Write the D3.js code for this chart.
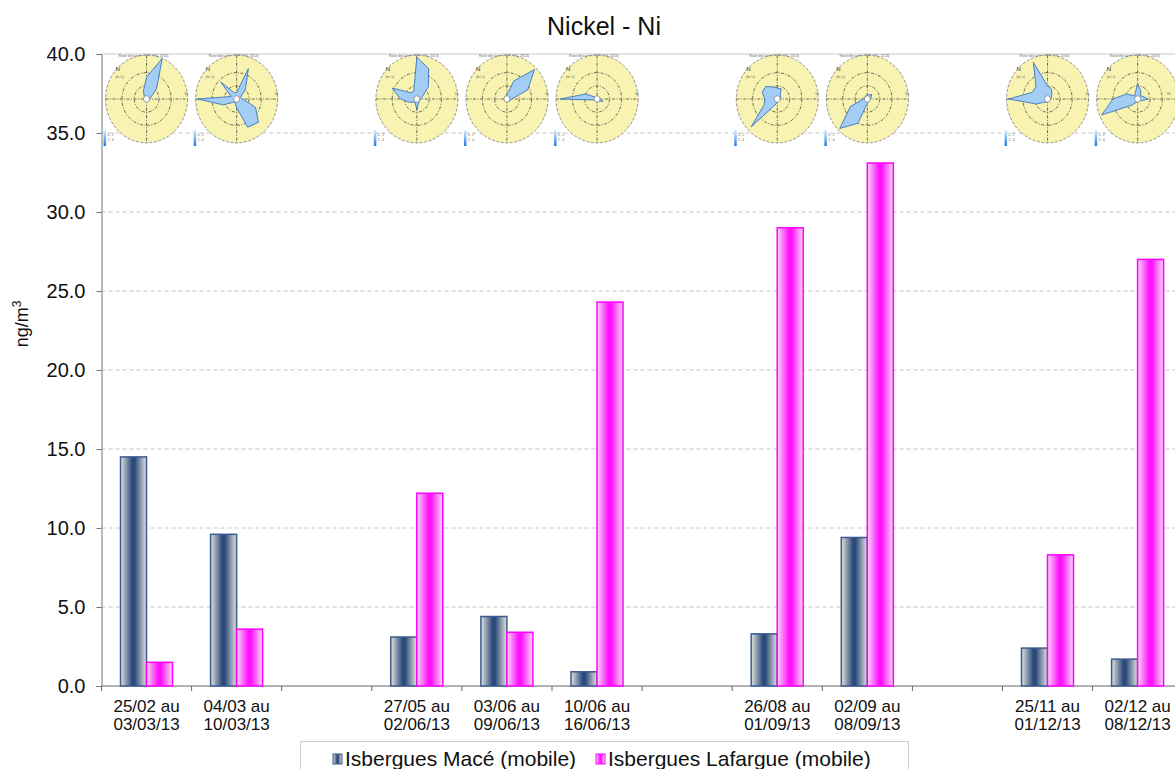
<!DOCTYPE html>
<html>
<head>
<meta charset="UTF-8">
<title>Nickel - Ni</title>
<script src="https://cdn.jsdelivr.net/npm/d3@7"></script>
<style>
  body { margin: 0; background: #fff; overflow: hidden; }
  svg { display: block; font-family: "Liberation Sans", Arial, sans-serif; }
</style>
</head>
<body>
<div id="chart"></div>
<script>
// catégories (les vides servent d'espacement entre campagnes)
var catLine1 = ["25/02 au", "04/03 au", "", "27/05 au", "03/06 au", "10/06 au", "", "26/08 au", "02/09 au", "", "25/11 au", "02/12 au"];
var catLine2 = ["03/03/13", "10/03/13", "", "02/06/13", "09/06/13", "16/06/13", "", "01/09/13", "08/09/13", "", "01/12/13", "08/12/13"];
var seriesNames = ["Isbergues Macé (mobile)", "Isbergues Lafargue (mobile)"];
var maceValues = [14.5, 9.6, null, 3.1, 4.4, 0.9, null, 3.3, 9.4, null, 2.4, 1.7];
var lafargueValues = [1.5, 3.6, null, 12.2, 3.4, 24.3, null, 29.0, 33.1, null, 8.3, 27.0];
var yTicks = [0, 5, 10, 15, 20, 25, 30, 35, 40];

// roses des vents (16 directions, N puis sens horaire, rayon relatif)
var roses = [
  [0.5, 1.0, 0.35, 0.12, 0.08, 0.06, 0.06, 0.06, 0.06, 0.06, 0.06, 0.06, 0.06, 0.06, 0.08, 0.2],
  [0.15, 0.75, 0.3, 0.1, 0.15, 0.5, 0.75, 0.7, 0.2, 0.1, 0.1, 0.35, 0.95, 0.15, 0.55, 0.15],
  null,
  [0.95, 0.75, 0.4, 0.15, 0.1, 0.08, 0.08, 0.1, 0.25, 0.1, 0.1, 0.2, 0.4, 0.65, 0.2, 0.2],
  [0.1, 0.45, 0.95, 0.55, 0.12, 0.08, 0.06, 0.06, 0.06, 0.06, 0.06, 0.06, 0.06, 0.06, 0.06, 0.08],
  [0.06, 0.06, 0.06, 0.06, 0.1, 0.15, 0.06, 0.06, 0.06, 0.06, 0.06, 0.06, 0.9, 0.3, 0.06, 0.06],
  null,
  [0.25, 0.25, 0.1, 0.1, 0.08, 0.06, 0.06, 0.06, 0.08, 0.15, 0.9, 0.35, 0.3, 0.4, 0.4, 0.3],
  [0.1, 0.1, 0.15, 0.1, 0.08, 0.06, 0.06, 0.08, 0.1, 0.6, 0.95, 0.45, 0.1, 0.08, 0.08, 0.08],
  null,
  [0.3, 0.25, 0.15, 0.1, 0.08, 0.06, 0.06, 0.06, 0.08, 0.08, 0.1, 0.3, 0.95, 0.4, 0.4, 0.9],
  [0.35, 0.2, 0.1, 0.15, 0.25, 0.1, 0.06, 0.06, 0.06, 0.08, 0.2, 0.95, 0.6, 0.3, 0.1, 0.15]
];

var width = 1175, height = 769;
var margin = {top: 54, left: 101.5, bottom: 83};
var slotWidth = 90.1;

var svg = d3.select("#chart").append("svg")
  .attr("width", width)
  .attr("height", height);

var defs = svg.append("defs");
function hGradient(id, edge, mid) {
  var g = defs.append("linearGradient").attr("id", id)
    .attr("x1", "0%").attr("x2", "100%").attr("y1", "0%").attr("y2", "0%");
  g.append("stop").attr("offset", "0%").attr("stop-color", edge);
  g.append("stop").attr("offset", "45%").attr("stop-color", mid);
  g.append("stop").attr("offset", "55%").attr("stop-color", mid);
  g.append("stop").attr("offset", "100%").attr("stop-color", edge);
}
hGradient("gMace", "#e4e4dc", "#2b4a7c");
hGradient("gLaf", "#f4dcf4", "#ff10ff");
var cb = defs.append("linearGradient").attr("id", "gBar")
  .attr("x1", "0%").attr("x2", "0%").attr("y1", "0%").attr("y2", "100%");
cb.append("stop").attr("offset", "0%").attr("stop-color", "#dbeeff");
cb.append("stop").attr("offset", "100%").attr("stop-color", "#1f7ae0");

var x = d3.scaleBand()
  .domain(d3.range(catLine1.length))
  .range([margin.left, margin.left + slotWidth * catLine1.length])
  .padding(0);
var xs = d3.scaleBand()
  .domain(seriesNames)
  .range([19, 71])
  .padding(0);
var y = d3.scaleLinear()
  .domain([0, 40])
  .range([height - margin.bottom, margin.top]);

// titre
svg.append("text")
  .attr("x", 604).attr("y", 35)
  .attr("text-anchor", "middle")
  .attr("font-size", "25px")
  .attr("fill", "#111")
  .text("Nickel - Ni");

// grille
svg.append("g").selectAll("line")
  .data(yTicks.filter(function(d){ return d > 0; }))
  .enter().append("line")
  .attr("x1", margin.left).attr("x2", width)
  .attr("y1", function(d){ return y(d); })
  .attr("y2", function(d){ return y(d); })
  .attr("stroke", function(d){ return d === 40 ? "#c8c8c8" : "#c4c4c4"; })
  .attr("stroke-dasharray", function(d){ return d === 40 ? null : "4,3"; });

// axe Y
var yAxis = svg.append("g")
  .attr("transform", "translate(" + margin.left + ",0)")
  .call(d3.axisLeft(y).tickValues(yTicks).tickFormat(d3.format(".1f")).tickSize(5).tickPadding(11));
yAxis.select(".domain").attr("stroke", "#777");
yAxis.selectAll(".tick line").attr("stroke", "#777");
yAxis.selectAll("text").attr("font-size", "20px").attr("fill", "#111")
  .attr("font-family", "'Liberation Sans', Arial, sans-serif");

var yLab = svg.append("text")
  .attr("transform", "translate(28,324) rotate(-90)")
  .attr("text-anchor", "middle")
  .attr("font-size", "18px")
  .attr("fill", "#111");
yLab.append("tspan").text("ng/m");
yLab.append("tspan").attr("font-size", "12px").attr("dy", "-7").text("3");

// axe X
var x0 = y(0);
svg.append("line")
  .attr("x1", margin.left).attr("x2", width)
  .attr("y1", x0).attr("y2", x0)
  .attr("stroke", "#666");
svg.append("g").selectAll("line")
  .data(d3.range(catLine1.length + 1))
  .enter().append("line")
  .attr("x1", function(i){ return margin.left + i * x.bandwidth(); })
  .attr("x2", function(i){ return margin.left + i * x.bandwidth(); })
  .attr("y1", x0).attr("y2", x0 + 5)
  .attr("stroke", "#666");
var xl = svg.append("g").selectAll("text")
  .data(d3.range(catLine1.length))
  .enter().append("text")
  .attr("text-anchor", "middle")
  .attr("font-size", "17px")
  .attr("fill", "#111");
xl.append("tspan")
  .attr("x", function(i){ return x(i) + x.bandwidth() / 2; })
  .attr("y", 712)
  .text(function(i){ return catLine1[i]; });
xl.append("tspan")
  .attr("x", function(i){ return x(i) + x.bandwidth() / 2; })
  .attr("y", 730)
  .text(function(i){ return catLine2[i]; });

// barres
var series = [
  {name: seriesNames[0], values: maceValues, fill: "url(#gMace)", stroke: "#3b5b8e"},
  {name: seriesNames[1], values: lafargueValues, fill: "url(#gLaf)", stroke: "#ff00ff"}
];
series.forEach(function(s){
  svg.append("g").selectAll("rect")
    .data(s.values.map(function(v, i){ return {i: i, v: v}; }).filter(function(d){ return d.v !== null; }))
    .enter().append("rect")
    .attr("x", function(d){ return x(d.i) + xs(s.name); })
    .attr("y", function(d){ return y(d.v); })
    .attr("width", xs.bandwidth())
    .attr("height", function(d){ return y(0) - y(d.v); })
    .attr("fill", s.fill)
    .attr("stroke", s.stroke)
    .attr("stroke-width", 1.5);
});

// roses des vents
var R = 41;
var line = d3.lineRadial()
  .angle(function(d, k){ return k * 2 * Math.PI / 16; })
  .radius(function(d){ return d * R; })
  .curve(d3.curveLinearClosed);
roses.forEach(function(r, i){
  if (!r) return;
  var cx = x(i) + x.bandwidth() / 2, cy = 99;
  var g = svg.append("g").attr("transform", "translate(" + cx + "," + cy + ")");
  g.append("text").attr("x", -3).attr("y", -42).attr("text-anchor", "middle")
    .attr("font-size", "3.5px").attr("fill", "#666").text("Rose des vents (ISB / ISL 2013)");
  var p = g.append("g").attr("transform", "scale(1,1.07)");
  p.append("circle").attr("r", R).attr("fill", "#f8f3b0")
    .attr("stroke", "#555").attr("stroke-width", 0.6).attr("stroke-dasharray", "3,1.5");
  [0.3, 0.6].forEach(function(f){
    p.append("circle").attr("r", R * f).attr("fill", "none")
      .attr("stroke", "#333").attr("stroke-width", 0.7).attr("stroke-dasharray", "3,1.5,1,1.5");
  });
  p.append("line").attr("x1", -R).attr("x2", R).attr("stroke", "#333")
    .attr("stroke-width", 0.7).attr("stroke-dasharray", "3,1.5,1,1.5");
  p.append("line").attr("y1", -R).attr("y2", R).attr("stroke", "#333")
    .attr("stroke-width", 0.7).attr("stroke-dasharray", "3,1.5,1,1.5");
  p.append("path").attr("d", line(r))
    .attr("fill", "#a4cdf6").attr("stroke", "#2f6cb8").attr("stroke-width", 0.8);
  p.append("circle").attr("r", 3).attr("fill", "#fff").attr("stroke", "#555").attr("stroke-width", 0.5);
  g.append("text").attr("x", -31).attr("y", -28).attr("font-size", "6px").attr("fill", "#333").text("N");
  g.append("text").attr("x", -31).attr("y", -21).attr("font-size", "3px").attr("fill", "#555").text("(m / s)");
  var vx = Math.min(38, width - cx - 8);
  g.append("text").attr("x", vx).attr("y", -4).attr("font-size", "3px").attr("fill", "#555").text("Vit.");
  g.append("rect").attr("x", -43).attr("y", 31).attr("width", 2.5).attr("height", 16).attr("fill", "url(#gBar)");
  g.append("text").attr("x", -39).attr("y", 37).attr("font-size", "3px").attr("fill", "#555").text("0 - 2");
  g.append("text").attr("x", -39).attr("y", 42).attr("font-size", "3px").attr("fill", "#555").text("2 - 4");
});

// légende
var lg = svg.append("g");
lg.append("rect").attr("x", 300.5).attr("y", 741.5).attr("width", 608).attr("height", 40)
  .attr("fill", "#fff").attr("stroke", "#ccc");
var legendX = [333, 596];
series.forEach(function(s, k){
  lg.append("rect").attr("x", legendX[k]).attr("y", 754).attr("width", 9).attr("height", 10)
    .attr("fill", s.fill).attr("stroke", s.stroke).attr("stroke-width", 1);
  lg.append("text").attr("x", legendX[k] + 12).attr("y", 766)
    .attr("font-size", "21px").attr("fill", "#111").text(s.name);
});
</script>
</body>
</html>
